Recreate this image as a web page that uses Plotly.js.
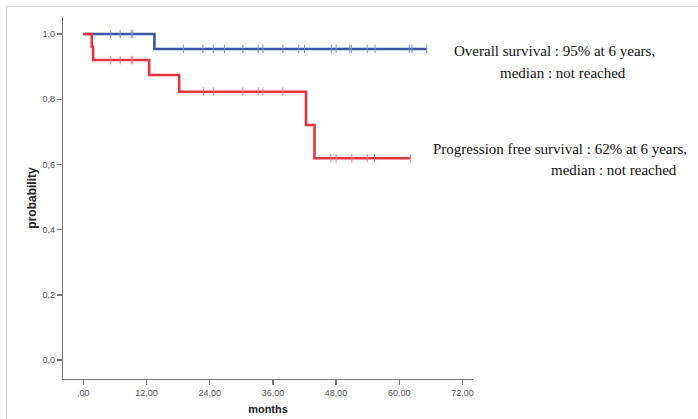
<!DOCTYPE html>
<html>
<head>
<meta charset="utf-8">
<script src="https://cdn.plot.ly/plotly-3.0.1.min.js"></script>
<style>
  html, body { margin: 0; padding: 0; background: #fff; }
  #chart { width: 698px; height: 419px; }
</style>
</head>
<body>
<div id="chart"></div>
<script>
// Overall survival (blue) step curve: times and survival
const osTimes = [0, 13.5, 13.5, 65.2];
const osSurv  = [1.0, 1.0, 0.954, 0.954];
// OS censor marks
const osCensorTimes = [5.2, 7.0, 9.1, 9.4, 19.0, 22.7, 24.7, 26.8, 30.3, 33.2, 34.1, 37.9, 40.9, 42.0, 47.1, 48.0, 50.6, 50.9, 53.9, 55.4, 61.9, 62.4, 65.2];
const osCensorSurv  = [1.0, 1.0, 1.0, 1.0, 0.954, 0.954, 0.954, 0.954, 0.954, 0.954, 0.954, 0.954, 0.954, 0.954, 0.954, 0.954, 0.954, 0.954, 0.954, 0.954, 0.954, 0.954, 0.954];

// Progression free survival (red) step curve
const pfsTimes = [0, 1.6, 1.6, 1.85, 1.85, 12.5, 12.5, 18.2, 18.2, 42.3, 42.3, 43.9, 43.9, 62.1];
const pfsSurv  = [1.0, 1.0, 0.961, 0.961, 0.92, 0.92, 0.874, 0.874, 0.823, 0.823, 0.721, 0.721, 0.619, 0.619];
// PFS censor marks
const pfsCensorTimes = [5.2, 7.0, 9.1, 9.4, 22.8, 24.7, 30.3, 33.2, 34.1, 37.9, 47.0, 48.0, 51.0, 53.9, 55.3, 62.1];
const pfsCensorSurv  = [0.92, 0.92, 0.92, 0.92, 0.823, 0.823, 0.823, 0.823, 0.823, 0.823, 0.619, 0.619, 0.619, 0.619, 0.619, 0.619];

const xTickVals = [0, 12, 24, 36, 48, 60, 72];
const xTickText = [",00", "12,00", "24,00", "36,00", "48,00", "60,00", "72,00"];
const yTickVals = [0, 0.2, 0.4, 0.6, 0.8, 1.0];
const yTickText = ["0,0", "0,2", "0,4", "0,6", "0,8", "1,0"];

const osLabel1 = "Overall survival : 95% at 6 years,";
const osLabel2 = "median : not reached";
const pfsLabel1 = "Progression free survival : 62% at 6 years,";
const pfsLabel2 = "median : not reached";

const BLUE = "#3b55a8";
const RED = "#e8343a";
const BLUE_TICK = "#7f8fcc";
const RED_TICK = "#ee7a7e";

const traces = [
  { x: osTimes, y: osSurv, mode: "lines", line: { color: BLUE, width: 2.6 }, showlegend: false },
  { x: osCensorTimes, y: osCensorSurv, mode: "markers",
    marker: { symbol: "line-ns-open", size: 6, color: BLUE_TICK, line: { color: BLUE_TICK, width: 1 } }, showlegend: false },
  { x: pfsTimes, y: pfsSurv, mode: "lines", line: { color: RED, width: 2.6 }, showlegend: false },
  { x: pfsCensorTimes, y: pfsCensorSurv, mode: "markers",
    marker: { symbol: "line-ns-open", size: 6, color: RED_TICK, line: { color: RED_TICK, width: 1 } }, showlegend: false }
];

const L = 63, R = 473, T = 17, B = 379;
const W = R - L, H = B - T;
const px = v => (v - L) / W;
const py = v => (B - v) / H;

const annFont = { family: "Liberation Serif, Times New Roman, serif", size: 15, color: "#111" };

const layout = {
  width: 698, height: 419,
  margin: { l: L, r: 698 - R, t: T, b: 419 - B, pad: 0 },
  paper_bgcolor: "#fff", plot_bgcolor: "#fff",
  font: { family: "Liberation Sans, Arial, sans-serif", size: 9, color: "#555" },
  xaxis: {
    range: [-3.86, 74.0], tickvals: xTickVals, ticktext: xTickText,
    showgrid: false, zeroline: false, showline: true, linecolor: "#777", linewidth: 1.3,
    ticks: "outside", ticklen: 5, tickcolor: "#777", tickwidth: 1.3,
    tickfont: { size: 9, color: "#555" },
    title: { text: "<b>months</b>", font: { size: 11, color: "#222" }, standoff: 8 }
  },
  yaxis: {
    range: [-0.058, 1.052], tickvals: yTickVals, ticktext: yTickText,
    showgrid: false, zeroline: false, showline: true, linecolor: "#777", linewidth: 1.3,
    ticks: "outside", ticklen: 5, tickcolor: "#777", tickwidth: 1.3,
    tickfont: { size: 9, color: "#555" },
    title: { text: "<b>probability</b>", font: { size: 12, color: "#222" }, standoff: 3 }
  },
  shapes: [
    { type: "line", xref: "paper", yref: "paper", x0: px(6.5), x1: px(698), y0: py(6.5), y1: py(6.5), line: { color: "#cfcfcf", width: 1 } },
    { type: "line", xref: "paper", yref: "paper", x0: px(6.5), x1: px(6.5), y0: py(6.5), y1: py(419), line: { color: "#cfcfcf", width: 1 } }
  ],
  annotations: [
    { xref: "paper", yref: "paper", x: px(452), y: py(51), xanchor: "left", yanchor: "middle", text: osLabel1, showarrow: false, font: annFont },
    { xref: "paper", yref: "paper", x: px(498), y: py(73), xanchor: "left", yanchor: "middle", text: osLabel2, showarrow: false, font: annFont },
    { xref: "paper", yref: "paper", x: px(431), y: py(149), xanchor: "left", yanchor: "middle", text: pfsLabel1, showarrow: false, font: annFont },
    { xref: "paper", yref: "paper", x: px(549), y: py(170), xanchor: "left", yanchor: "middle", text: pfsLabel2, showarrow: false, font: annFont }
  ]
};

Plotly.newPlot("chart", traces, layout, { displayModeBar: false, staticPlot: true });
</script>
</body>
</html>
